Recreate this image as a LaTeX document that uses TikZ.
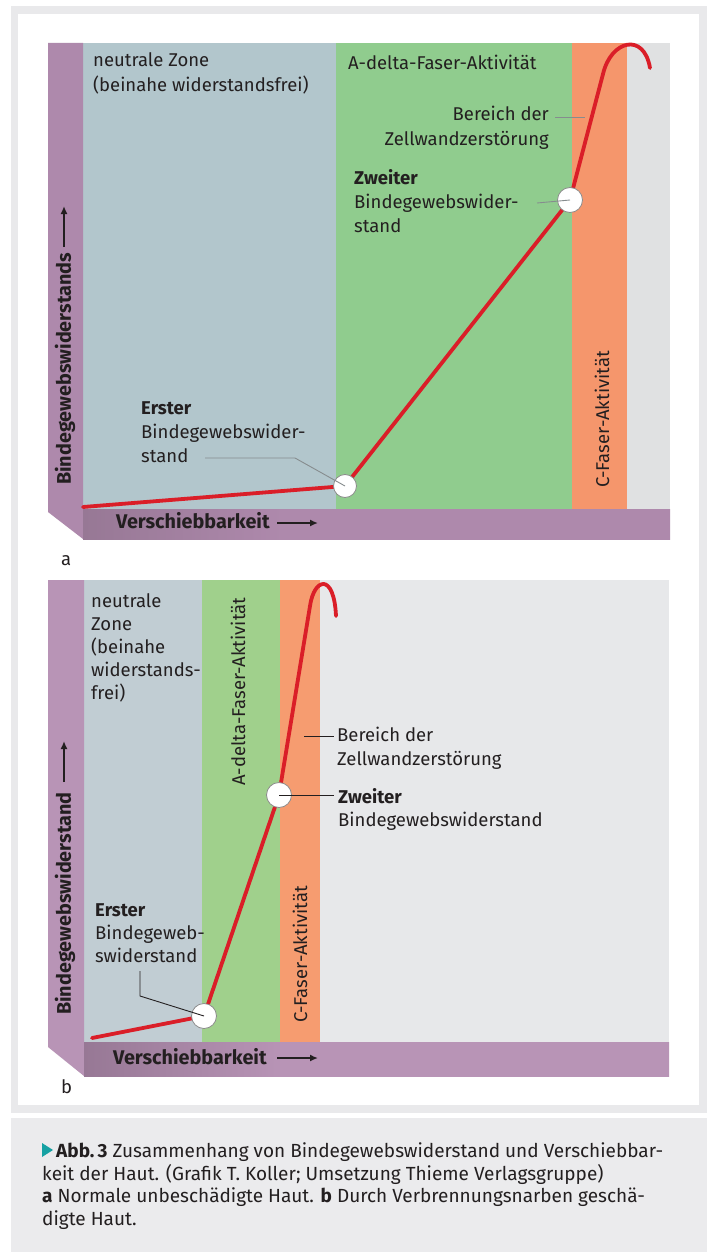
\documentclass[tikz,border=0pt]{standalone}
\usepackage{fontspec}
\setmainfont{Fira Sans}
\usetikzlibrary{arrows.meta}
\definecolor{ink}{HTML}{231F20}
\definecolor{framegray}{HTML}{E9E9EB}
\definecolor{capgray}{HTML}{EBEBED}
\definecolor{aneut}{HTML}{B2C6CC}
\definecolor{agreen}{HTML}{90CC8E}
\definecolor{aorange}{HTML}{F5966C}
\definecolor{agray}{HTML}{E0E1E2}
\definecolor{apurple}{HTML}{AE89AC}
\definecolor{bneut}{HTML}{C1CDD3}
\definecolor{bgreen}{HTML}{A0D08C}
\definecolor{borange}{HTML}{F69C70}
\definecolor{bgray}{HTML}{E7E8EA}
\definecolor{bpurple}{HTML}{B894B6}
\definecolor{purpledark}{HTML}{977895}
\definecolor{curvered}{HTML}{DA1E28}
\definecolor{knotgray}{HTML}{8C8C8C}
\definecolor{leadgray}{HTML}{868C8E}
\definecolor{teal}{HTML}{16A1A3}
\pgfdeclarehorizontalshading{barshadea}{100bp}{color(0bp)=(purpledark); color(25bp)=(purpledark); color(42bp)=(apurple); color(100bp)=(apurple)}
\pgfdeclarehorizontalshading{barshadeb}{100bp}{color(0bp)=(purpledark); color(25bp)=(purpledark); color(42bp)=(bpurple); color(100bp)=(bpurple)}
\begin{document}
\begin{tikzpicture}[x=1pt,y=-1pt,
  lbl/.style={inner sep=0pt, anchor=base west, text=ink, font=\fontsize{18.5}{22}\selectfont},
  lblr/.style={lbl, anchor=base east},
  lblb/.style={lbl, font=\fontsize{18.5}{22}\selectfont\bfseries},
  rlbl/.style={inner sep=0pt, anchor=west, rotate=90, text=ink, font=\fontsize{18.5}{22}\selectfont},
  axl/.style={inner sep=0pt, text=ink, font=\fontsize{19.8}{22}\selectfont\bfseries},
  caption/.style={inner sep=0pt, anchor=base west, text=ink, font=\fontsize{19}{22}\selectfont},
  redline/.style={draw=curvered, line width=3.8pt, line cap=round, line join=round},
  knot/.style={circle, draw=knotgray, line width=0.8pt, fill=white, inner sep=0pt},
  leadera/.style={draw=leadgray, line width=0.9pt},
  leaderb/.style={draw=ink, line width=0.9pt},
  axarrow/.style={draw=ink, line width=1.6pt, -{Latex[length=8pt,width=7pt]}}
]
\useasboundingbox (0,0) rectangle (707,1252);
\fill[white] (0,0) rectangle (707,1252);
\fill[framegray] (11,6) rectangle (707,1113);
\fill[white] (18,14) rectangle (699,1105);
\fill[capgray] (11,1118) rectangle (707,1252);

% ================= panel a =================
\fill[aneut] (83,43) rectangle (336,509);
\fill[agreen] (336,43) rectangle (572,509);
\fill[aorange] (572,43) rectangle (627,509);
\fill[agray] (627,43) rectangle (670,509);
\fill[apurple] (48,43) -- (83,43) -- (83,539) -- (48,512) -- cycle;
\shade[shading=barshadea] (83,509) rectangle (670,539);

\node[lbl] (anz1) at (93,67) {neutrale Zone};
\node[lbl] (anz2) at (93,92) {(beinahe widerstandsfrei)};
\node[lbl] (aadelta) at (348,70) {A-delta-Faser-Aktivität};
\node[lblr] (aber1) at (549,121) {Bereich der};
\node[lblr] (aber2) at (549,146) {Zellwandzerstörung};
\node[lblb] (azw1) at (354,185) {Zweiter};
\node[lbl] (azw2) at (354,208) {Bindegewebswider-};
\node[lbl] (azw3) at (354,232) {stand};
\node[lblb] (aer1) at (141,414) {Erster};
\node[lbl] (aer2) at (141,438) {Bindegewebswider-};
\node[lbl] (aer3) at (141,462) {stand};
\node[rlbl] (acfaser) at (602,488) {C-Faser-Aktivität};
\node[axl, rotate=90, anchor=west] (ayl) at (65,485) {Bindegewebswiderstands};
\node[axl, anchor=base west] (axl) at (116,528) {Verschiebbarkeit};
\node[lbl] (alab) at (61,565) {a};

\coordinate (ay1) at (64,247);
\coordinate (ay2) at (64,206);
\draw[axarrow] (ay1) -- (ay2);
\coordinate (ax1) at (277,523);
\coordinate (ax2) at (318,523);
\draw[axarrow] (ax1) -- (ax2);

\coordinate (ra0) at (83,507);
\coordinate (ra1) at (345,486);
\coordinate (ra2) at (570,200);
\coordinate (ra3) at (603,74);
\coordinate (ra4) at (650,68);
\draw[redline] (ra0) -- (ra1) -- (ra2) -- (ra3) .. controls (611,40) and (644,32) .. (ra4);

\coordinate (lb1) at (555,117);
\coordinate (lb2) at (585,117);
\draw[leadera] (lb1) -- (lb2);

\node[knot, minimum size=23pt] (ka1) at (ra1) {};
\node[knot, minimum size=25pt] (ka2) at (ra2) {};
\coordinate (lz1) at (537,203);
\draw[leadera] (lz1) -- (ka2.center);
\coordinate (le1) at (205,458);
\coordinate (le2) at (295,458);
\draw[leadera] (le1) -- (le2) -- (ka1.center);

% ================= panel b =================
\fill[bneut] (83,580) rectangle (202,1042);
\fill[bgreen] (202,580) rectangle (280,1042);
\fill[borange] (280,580) rectangle (320,1042);
\fill[bgray] (320,580) rectangle (669,1042);
\fill[bpurple] (48,580) -- (84,580) -- (84,1076) -- (48,1047) -- cycle;
\shade[shading=barshadeb] (84,1042) rectangle (669,1076);

\node[lbl] (bnz1) at (91,607) {neutrale};
\node[lbl] (bnz2) at (91,630) {Zone};
\node[lbl] (bnz3) at (91,653) {(beinahe};
\node[lbl] (bnz4) at (91,676) {widerstands-};
\node[lbl] (bnz5) at (91,699) {frei)};
\node[rlbl] (badelta) at (238,786) {A-delta-Faser-Aktivität};
\node[rlbl] (bcfaser) at (300,1023) {C-Faser-Aktivität};
\node[lbl] (bber1) at (337,741) {Bereich der};
\node[lbl] (bber2) at (337,765) {Zellwandzerstörung};
\node[lblb] (bzw1) at (338,803) {Zweiter};
\node[lbl] (bzw2) at (338,826) {Bindegewebswiderstand};
\node[lblb] (ber1) at (95,916) {Erster};
\node[lbl] (ber2) at (95,939) {Bindegeweb-};
\node[lbl] (ber3) at (95,962) {swiderstand};
\node[axl, rotate=90, anchor=west] (byl) at (65,1015) {Bindegewebswiderstand};
\node[axl, anchor=base west] (bxl) at (113,1064) {Verschiebbarkeit};
\node[lbl] (blab) at (61,1093) {b};

\coordinate (by1) at (64,782);
\coordinate (by2) at (64,741);
\draw[axarrow] (by1) -- (by2);
\coordinate (bx1) at (277,1058);
\coordinate (bx2) at (318,1058);
\draw[axarrow] (bx1) -- (bx2);

\coordinate (rb0) at (92,1038);
\coordinate (rb1) at (204,1016);
\coordinate (rb2) at (279,795);
\coordinate (rb3) at (310,606);
\coordinate (rb4) at (336,616);
\draw[redline] (rb0) -- (rb1) -- (rb2) -- (rb3) .. controls (314,578) and (334,572) .. (rb4);

\coordinate (lbb1) at (304,736);
\coordinate (lbb2) at (334,736);
\draw[leaderb] (lbb1) -- (lbb2);

\node[knot, minimum size=25pt] (kb1) at (rb1) {};
\node[knot, minimum size=25pt] (kb2) at (rb2) {};
\coordinate (lzb) at (334,795);
\draw[leaderb] (kb2.center) -- (lzb);
\coordinate (leb1) at (140,971);
\coordinate (leb2) at (140,996);
\draw[leaderb] (leb1) -- (leb2) -- (kb1.center);

% ================= caption =================
\fill[teal] (42,1143) -- (53,1150) -- (42,1157) -- cycle;
\node[caption] (cap1) at (56,1157) {\textbf{Abb.\,3} Zusammenhang von Bindegewebswiderstand und Verschiebbar-};
\node[caption] (cap2) at (42,1180) {keit der Haut. (Grafik T. Koller; Umsetzung Thieme Verlagsgruppe)};
\node[caption] (cap3) at (42,1202) {\textbf{a} Normale unbeschädigte Haut. \textbf{b} Durch Verbrennungsnarben geschä-};
\node[caption] (cap4) at (42,1225) {digte Haut.};
\end{tikzpicture}
\end{document}
